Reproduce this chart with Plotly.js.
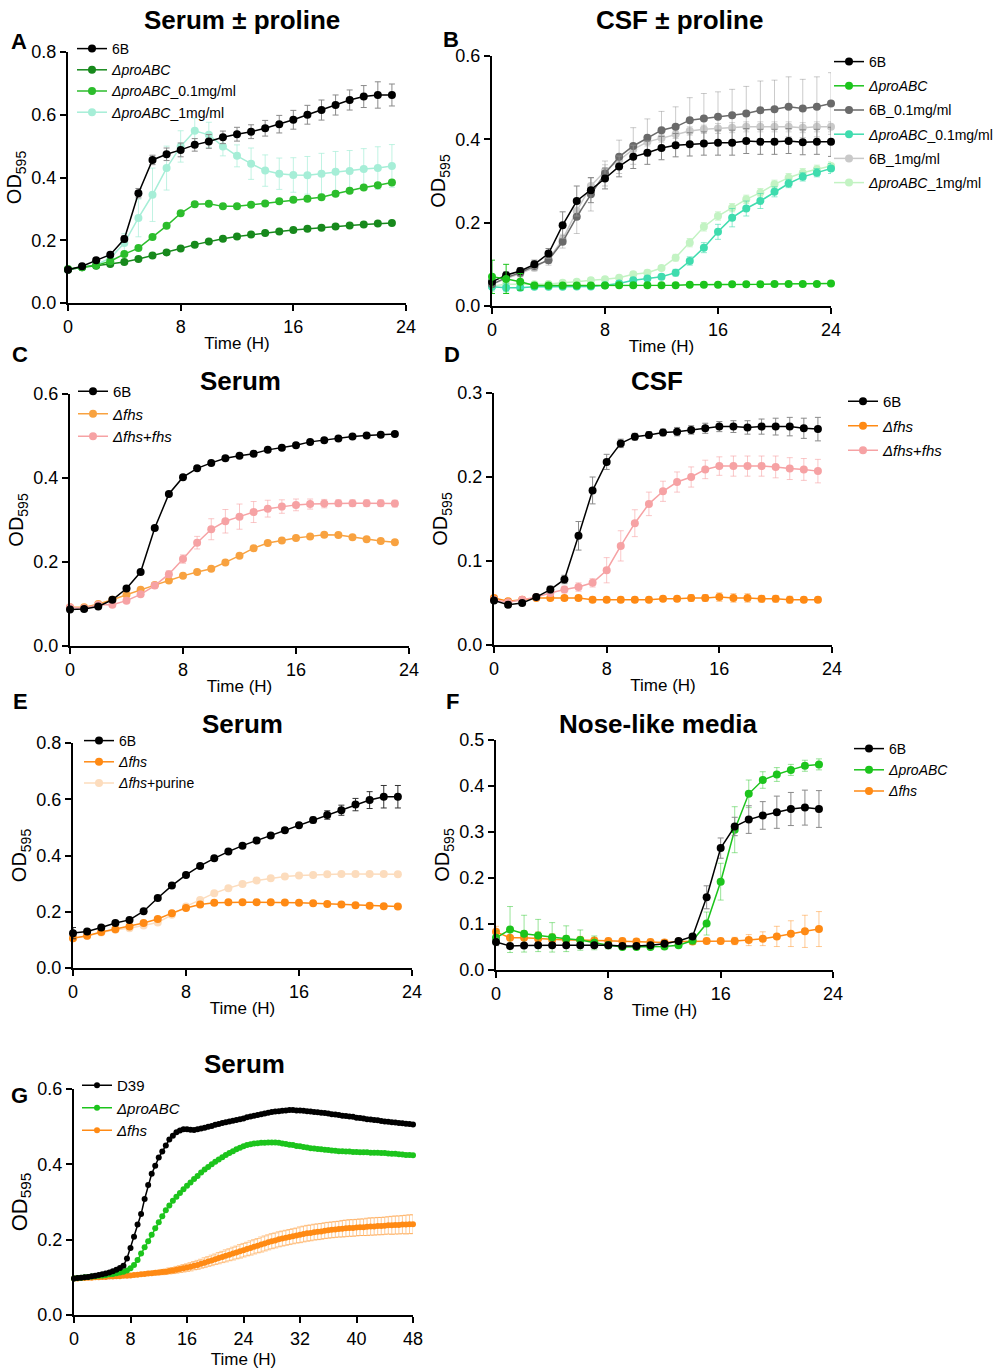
<!DOCTYPE html>
<html><head><meta charset="utf-8">
<script src="https://cdn.plot.ly/plotly-3.0.1.min.js"></script>
<style>html,body{margin:0;padding:0;background:#fff}#chart{width:1004px;height:1372px}</style>
</head><body><div id="chart"></div>
<script>
// ---------- DATA ----------
const hours = [0,1,2,3,4,5,6,7,8,9,10,11,12,13,14,15,16,17,18,19,20,21,22,23];
const hoursB = [0,1,2,3,4,5,6,7,8,9,10,11,12,13,14,15,16,17,18,19,20,21,22,23,24];
const hoursG = [0,0.5,1,1.5,2,2.5,3,3.5,4,4.5,5,5.5,6,6.5,7,7.5,8,8.5,9,9.5,10,10.5,11,11.5,12,12.5,13,13.5,14,14.5,15,15.5,16,16.5,17,17.5,18,18.5,19,19.5,20,20.5,21,21.5,22,22.5,23,23.5,24,24.5,25,25.5,26,26.5,27,27.5,28,28.5,29,29.5,30,30.5,31,31.5,32,32.5,33,33.5,34,34.5,35,35.5,36,36.5,37,37.5,38,38.5,39,39.5,40,40.5,41,41.5,42,42.5,43,43.5,44,44.5,45,45.5,46,46.5,47,47.5,48];

// Panel A: Serum ± proline
const A_6B      = [0.106,0.117,0.136,0.154,0.204,0.350,0.456,0.474,0.488,0.504,0.515,0.528,0.538,0.546,0.557,0.570,0.584,0.600,0.615,0.631,0.647,0.658,0.663,0.663];
const A_6B_err  = [0.004,0.005,0.006,0.006,0.010,0.015,0.015,0.020,0.022,0.020,0.022,0.020,0.022,0.022,0.025,0.028,0.030,0.030,0.032,0.032,0.032,0.035,0.042,0.035];
const A_pro     = [0.106,0.114,0.119,0.124,0.131,0.140,0.151,0.161,0.174,0.186,0.196,0.205,0.212,0.218,0.223,0.228,0.233,0.237,0.240,0.244,0.247,0.250,0.253,0.255];
const A_pro_err = [0.003,0.003,0.003,0.003,0.003,0.003,0.003,0.003,0.003,0.003,0.003,0.003,0.003,0.003,0.003,0.003,0.003,0.003,0.003,0.003,0.003,0.003,0.003,0.003];
const A_p01     = [0.108,0.114,0.120,0.133,0.156,0.175,0.210,0.246,0.286,0.315,0.316,0.308,0.308,0.313,0.317,0.324,0.329,0.332,0.337,0.348,0.358,0.368,0.375,0.384];
const A_p01_err = [0.004,0.004,0.004,0.005,0.005,0.006,0.006,0.006,0.006,0.006,0.006,0.006,0.006,0.006,0.006,0.006,0.006,0.006,0.006,0.006,0.006,0.006,0.006,0.006];
const A_p1      = [0.106,0.114,0.122,0.143,0.191,0.271,0.345,0.430,0.499,0.549,0.536,0.499,0.469,0.444,0.422,0.412,0.408,0.407,0.412,0.418,0.421,0.427,0.430,0.437];
const A_p1_err  = [0.004,0.005,0.008,0.015,0.030,0.060,0.085,0.070,0.050,0.040,0.040,0.030,0.035,0.050,0.050,0.050,0.055,0.060,0.065,0.065,0.065,0.065,0.068,0.068];

// Panel B: CSF ± proline
const B_6B      = [0.058,0.074,0.084,0.100,0.126,0.194,0.252,0.278,0.306,0.335,0.358,0.368,0.379,0.386,0.388,0.390,0.392,0.392,0.396,0.394,0.394,0.396,0.393,0.394,0.394];
const B_6B_err  = [0.005,0.008,0.008,0.010,0.012,0.032,0.036,0.030,0.025,0.025,0.028,0.028,0.028,0.028,0.028,0.028,0.030,0.030,0.030,0.030,0.030,0.030,0.030,0.030,0.035];
const B_pro     = [0.070,0.065,0.058,0.049,0.049,0.049,0.049,0.049,0.049,0.050,0.050,0.050,0.050,0.050,0.051,0.051,0.051,0.052,0.052,0.052,0.053,0.053,0.053,0.053,0.054];
const B_pro_err = [0.040,0.035,0.020,0.004,0.003,0.003,0.003,0.003,0.003,0.003,0.003,0.003,0.003,0.003,0.003,0.003,0.003,0.003,0.003,0.003,0.003,0.003,0.003,0.003,0.003];
const B_6B01    = [0.052,0.068,0.080,0.096,0.110,0.154,0.214,0.268,0.318,0.358,0.384,0.404,0.422,0.430,0.446,0.450,0.454,0.458,0.462,0.470,0.472,0.478,0.474,0.478,0.486];
const B_6B01_err= [0.005,0.008,0.010,0.010,0.012,0.015,0.040,0.040,0.030,0.040,0.044,0.045,0.045,0.048,0.054,0.060,0.060,0.062,0.065,0.070,0.070,0.072,0.070,0.072,0.074];
const B_p01     = [0.046,0.044,0.044,0.046,0.046,0.046,0.047,0.047,0.050,0.054,0.062,0.066,0.070,0.080,0.108,0.140,0.178,0.212,0.234,0.252,0.274,0.294,0.310,0.320,0.330];
const B_p01_err = [0.010,0.010,0.005,0.004,0.004,0.004,0.004,0.004,0.004,0.004,0.005,0.005,0.006,0.008,0.010,0.012,0.018,0.022,0.018,0.018,0.012,0.010,0.010,0.010,0.012];
const B_6B1     = [0.052,0.066,0.078,0.092,0.112,0.160,0.228,0.288,0.324,0.350,0.376,0.394,0.403,0.412,0.420,0.424,0.426,0.428,0.430,0.430,0.430,0.430,0.428,0.430,0.430];
const B_6B1_err = [0.005,0.006,0.006,0.008,0.010,0.012,0.020,0.020,0.015,0.012,0.010,0.010,0.010,0.010,0.010,0.010,0.012,0.012,0.012,0.012,0.012,0.012,0.012,0.012,0.012];
const B_p1      = [0.048,0.052,0.052,0.052,0.053,0.056,0.058,0.062,0.064,0.068,0.076,0.080,0.091,0.116,0.152,0.190,0.216,0.236,0.256,0.272,0.292,0.308,0.320,0.328,0.336];
const B_p1_err  = [0.005,0.005,0.005,0.005,0.005,0.005,0.005,0.005,0.005,0.005,0.006,0.006,0.006,0.008,0.010,0.010,0.010,0.010,0.010,0.010,0.010,0.010,0.010,0.010,0.010];

// Panel C: Serum, fhs
const C_6B      = [0.087,0.088,0.094,0.110,0.137,0.176,0.281,0.362,0.402,0.423,0.436,0.447,0.453,0.458,0.467,0.472,0.478,0.486,0.490,0.494,0.499,0.501,0.503,0.505];
const C_fhs     = [0.092,0.092,0.100,0.110,0.122,0.134,0.145,0.156,0.167,0.176,0.184,0.199,0.215,0.233,0.245,0.251,0.257,0.261,0.265,0.264,0.259,0.254,0.250,0.247];
const C_comp    = [0.092,0.090,0.098,0.098,0.108,0.123,0.144,0.171,0.207,0.246,0.278,0.297,0.308,0.319,0.327,0.332,0.336,0.338,0.339,0.340,0.340,0.340,0.340,0.339];
const C_comp_err= [0.003,0.003,0.003,0.004,0.005,0.005,0.006,0.008,0.010,0.015,0.025,0.028,0.030,0.025,0.020,0.016,0.014,0.012,0.010,0.008,0.008,0.008,0.008,0.008];

// Panel D: CSF, fhs
const D_6B      = [0.053,0.048,0.050,0.057,0.066,0.078,0.130,0.184,0.218,0.240,0.248,0.250,0.253,0.254,0.256,0.258,0.260,0.260,0.259,0.260,0.260,0.260,0.258,0.257];
const D_6B_err  = [0.003,0.003,0.003,0.003,0.004,0.005,0.017,0.016,0.009,0.005,0.004,0.004,0.004,0.005,0.005,0.006,0.006,0.007,0.008,0.009,0.010,0.011,0.012,0.014];
const D_fhs     = [0.056,0.052,0.054,0.056,0.056,0.056,0.056,0.054,0.054,0.054,0.054,0.054,0.055,0.055,0.056,0.056,0.057,0.056,0.056,0.055,0.055,0.054,0.054,0.054];
const D_fhs_err = [0.003,0.003,0.003,0.003,0.003,0.003,0.003,0.003,0.003,0.003,0.003,0.003,0.003,0.003,0.004,0.004,0.005,0.005,0.005,0.004,0.004,0.004,0.003,0.003];
const D_comp    = [0.054,0.051,0.054,0.057,0.062,0.066,0.069,0.074,0.089,0.118,0.145,0.168,0.183,0.194,0.200,0.209,0.213,0.213,0.213,0.213,0.212,0.210,0.209,0.207];
const D_comp_err= [0.003,0.003,0.003,0.003,0.004,0.004,0.005,0.005,0.015,0.018,0.016,0.014,0.012,0.012,0.012,0.011,0.011,0.012,0.012,0.012,0.013,0.013,0.013,0.014];

// Panel E: Serum, fhs + purine
const E_6B      = [0.124,0.130,0.144,0.160,0.171,0.202,0.249,0.293,0.331,0.363,0.390,0.414,0.435,0.453,0.471,0.490,0.508,0.526,0.544,0.561,0.581,0.597,0.609,0.609];
const E_6B_err  = [0.020,0.006,0.005,0.005,0.005,0.006,0.006,0.006,0.006,0.006,0.006,0.006,0.007,0.008,0.008,0.008,0.008,0.010,0.015,0.018,0.022,0.030,0.040,0.040];
const E_fhs     = [0.106,0.115,0.128,0.138,0.148,0.160,0.174,0.195,0.213,0.226,0.232,0.234,0.234,0.234,0.234,0.233,0.232,0.230,0.228,0.226,0.223,0.221,0.220,0.219];
const E_pur     = [0.106,0.114,0.126,0.136,0.141,0.151,0.162,0.189,0.219,0.242,0.266,0.284,0.299,0.311,0.319,0.325,0.329,0.331,0.333,0.334,0.334,0.334,0.334,0.333];

// Panel F: Nose-like media
const F_6B      = [0.061,0.052,0.053,0.054,0.054,0.054,0.054,0.054,0.054,0.052,0.052,0.054,0.057,0.063,0.073,0.158,0.265,0.312,0.327,0.336,0.343,0.350,0.353,0.350];
const F_6B_err  = [0.008,0.004,0.004,0.004,0.004,0.004,0.004,0.004,0.004,0.004,0.004,0.004,0.004,0.005,0.005,0.025,0.022,0.020,0.030,0.030,0.035,0.036,0.038,0.040];
const F_pro     = [0.070,0.088,0.079,0.075,0.071,0.068,0.065,0.059,0.054,0.050,0.050,0.050,0.051,0.054,0.064,0.101,0.192,0.305,0.383,0.413,0.425,0.435,0.444,0.447];
const F_pro_err = [0.015,0.050,0.040,0.035,0.032,0.028,0.022,0.015,0.008,0.005,0.005,0.005,0.005,0.005,0.008,0.025,0.040,0.050,0.030,0.018,0.015,0.012,0.012,0.012];
const F_fhs     = [0.083,0.070,0.070,0.068,0.066,0.065,0.065,0.064,0.063,0.063,0.062,0.061,0.060,0.062,0.062,0.063,0.063,0.063,0.065,0.068,0.073,0.079,0.084,0.089];
const F_fhs_err = [0.012,0.015,0.015,0.015,0.013,0.010,0.008,0.006,0.006,0.006,0.006,0.006,0.006,0.006,0.006,0.006,0.006,0.008,0.012,0.015,0.022,0.028,0.035,0.038];

// Panel G: Serum, 48 h
const G_D39 = [0.097,0.098,0.099,0.100,0.101,0.103,0.104,0.106,0.108,0.110,
0.113,0.116,0.120,0.125,0.131,0.150,0.178,0.208,0.240,0.268,
0.308,0.345,0.375,0.396,0.418,0.434,0.450,0.466,0.476,0.485,
0.490,0.493,0.493,0.492,0.491,0.493,0.495,0.497,0.500,0.502,
0.505,0.507,0.510,0.512,0.514,0.516,0.518,0.520,0.522,0.525,
0.527,0.529,0.531,0.533,0.535,0.537,0.539,0.540,0.541,0.542,
0.543,0.544,0.544,0.543,0.543,0.542,0.541,0.540,0.539,0.538,
0.537,0.536,0.535,0.533,0.532,0.531,0.529,0.528,0.527,0.526,
0.524,0.523,0.522,0.520,0.519,0.518,0.517,0.515,0.514,0.513,
0.512,0.511,0.510,0.509,0.508,0.507,0.506];
const G_pro = [0.097,0.098,0.099,0.100,0.101,0.102,0.103,0.104,0.105,0.106,
0.108,0.109,0.111,0.113,0.115,0.118,0.124,0.133,0.146,0.163,
0.180,0.196,0.213,0.230,0.246,0.262,0.278,0.291,0.303,0.314,
0.324,0.334,0.343,0.352,0.361,0.369,0.378,0.386,0.393,0.400,
0.407,0.413,0.419,0.425,0.430,0.435,0.440,0.444,0.448,0.451,
0.453,0.455,0.456,0.457,0.457,0.458,0.458,0.458,0.457,0.455,
0.454,0.452,0.451,0.449,0.448,0.446,0.445,0.443,0.442,0.441,
0.440,0.439,0.438,0.437,0.436,0.435,0.435,0.434,0.434,0.433,
0.433,0.432,0.432,0.432,0.431,0.431,0.431,0.430,0.430,0.429,
0.428,0.428,0.427,0.426,0.425,0.425,0.424];
const G_fhs = [0.097,0.097,0.098,0.098,0.099,0.099,0.100,0.100,0.101,0.101,
0.102,0.102,0.103,0.103,0.104,0.104,0.105,0.106,0.107,0.108,
0.109,0.110,0.111,0.112,0.113,0.114,0.115,0.117,0.118,0.120,
0.122,0.124,0.126,0.128,0.131,0.133,0.136,0.139,0.142,0.145,
0.148,0.151,0.154,0.157,0.160,0.163,0.166,0.169,0.172,0.175,
0.178,0.181,0.184,0.187,0.190,0.193,0.196,0.198,0.201,0.203,
0.205,0.207,0.209,0.211,0.213,0.215,0.217,0.218,0.220,0.221,
0.222,0.224,0.225,0.226,0.227,0.228,0.229,0.230,0.231,0.231,
0.232,0.233,0.233,0.234,0.235,0.235,0.236,0.236,0.237,0.238,
0.238,0.239,0.239,0.240,0.240,0.241,0.241];
const G_fhs_err = [0.002,0.002,0.002,0.002,0.002,0.002,0.002,0.002,0.002,0.002,
0.002,0.002,0.002,0.002,0.002,0.002,0.002,0.003,0.003,0.004,
0.004,0.005,0.005,0.006,0.006,0.007,0.007,0.008,0.008,0.009,
0.009,0.010,0.010,0.011,0.011,0.012,0.012,0.013,0.013,0.014,
0.014,0.015,0.015,0.016,0.016,0.017,0.017,0.018,0.018,0.018,
0.019,0.019,0.019,0.020,0.020,0.020,0.020,0.020,0.020,0.020,
0.020,0.020,0.020,0.020,0.021,0.021,0.021,0.021,0.021,0.021,
0.021,0.021,0.021,0.021,0.021,0.021,0.022,0.022,0.022,0.022,
0.022,0.022,0.022,0.023,0.023,0.023,0.023,0.023,0.023,0.023,
0.024,0.024,0.024,0.024,0.025,0.025,0.025];

// ---------- LAYOUT HELPERS ----------
const W = 1004, H = 1372;
const px = v => v / W;
const py = v => 1 - v / H;
const FONT = 'Liberation Sans, Arial, Helvetica, sans-serif';

const BLACK = '#000000', BLACK_E = '#8a8a8a';
const GREEN_D = '#17891c', GREEN_M = '#2cbd2c', MINT = '#a6eed7';
const GREEN = '#1cc41c', GREY_D = '#6a6a6a', GREY_L = '#c9c9c9', TURQ = '#3fdcae', PALEG = '#c3f3c3';
const ORANGE_L = '#f8a240', ORANGE = '#ff8a14', PINK = '#f6a2a4', PEACH = '#fcdcbd';

function hexA(hex, a) {
  const n = parseInt(hex.slice(1), 16);
  return `rgba(${(n>>16)&255},${(n>>8)&255},${n&255},${a})`;
}

function tr(x, y, err, name, color, ecolor, ax, leg, size, rank) {
  const t = {
    type: 'scatter', mode: 'lines+markers', x: x, y: y, name: name,
    xaxis: 'x' + ax, yaxis: 'y' + ax, legend: leg, legendgroup: leg + rank, legendrank: rank,
    line: {color: color, width: 1.5},
    marker: {color: color, size: size || 8},
    cliponaxis: false
  };
  if (err) t.error_y = {type: 'data', array: err, visible: true, color: ecolor, thickness: 1, width: 3};
  return t;
}

function xax(d0, d1, range, tickvals, anchor, stand) {
  return {domain: [px(d0), px(d1)], range: range, tickvals: tickvals, anchor: anchor,
    showline: true, linecolor: '#000', linewidth: 2, ticks: 'outside', ticklen: 6, tickwidth: 2,
    tickcolor: '#000', showgrid: false, zeroline: false, fixedrange: true,
    tickfont: {family: FONT, size: 18, color: '#000'},
    title: {text: 'Time (H)', standoff: stand || 2, font: {family: FONT, size: 17, color: '#000'}}};
}
function yax(top, bot, range, tickvals, anchor, tsize) {
  return {domain: [py(bot), py(top)], range: range, tickvals: tickvals, anchor: anchor, tickformat: '.1f',
    showline: true, linecolor: '#000', linewidth: 2, ticks: 'outside', ticklen: 6, tickwidth: 2,
    tickcolor: '#000', showgrid: false, zeroline: false, fixedrange: true,
    tickfont: {family: FONT, size: 18, color: '#000'},
    title: {text: 'OD<sub>595</sub>', standoff: 4, font: {family: FONT, size: tsize || 20, color: '#000'}}};
}
function leg(x, y, size, gap) {
  return {x: px(x), y: py(y), xanchor: 'left', yanchor: 'top', bgcolor: 'rgba(0,0,0,0)',
    borderwidth: 0, font: {family: FONT, size: size, color: '#000'}, tracegroupgap: gap,
    traceorder: 'grouped', itemwidth: 30};
}
function ann(text, x, y, size) {
  return {text: text, x: px(x), y: py(y), xref: 'paper', yref: 'paper', showarrow: false,
    xanchor: 'center', yanchor: 'middle',
    font: {family: FONT, size: size, color: '#000'}};
}

// ---------- TRACES (drawn bottom-to-top; legend order from legendrank) ----------
const it = '<i>ΔproABC</i>';
const traces = [
  // A
  tr(hours, A_p1,  A_p1_err,  it + '_1mg/ml',   MINT,    hexA(MINT,0.7), '', 'legend', 8, 4),
  tr(hours, A_pro, A_pro_err, it,               GREEN_D, hexA(GREEN_D,0.5), '', 'legend', 8, 2),
  tr(hours, A_p01, A_p01_err, it + '_0.1mg/ml', GREEN_M, hexA(GREEN_M,0.5), '', 'legend', 8, 3),
  tr(hours, A_6B,  A_6B_err,  '6B',             BLACK,   BLACK_E, '', 'legend', 8, 1),
  // B
  tr(hoursB, B_p1,   B_p1_err,   it + '_1mg/ml',   PALEG,  hexA(PALEG,0.8), '2', 'legend2', 8, 6),
  tr(hoursB, B_6B1,  B_6B1_err,  '6B_1mg/ml',      GREY_L, hexA(GREY_L,0.8), '2', 'legend2', 8, 5),
  tr(hoursB, B_p01,  B_p01_err,  it + '_0.1mg/ml', TURQ,   hexA(TURQ,0.6), '2', 'legend2', 8, 4),
  tr(hoursB, B_6B01, B_6B01_err, '6B_0.1mg/ml',    GREY_D, hexA(GREY_D,0.35), '2', 'legend2', 8, 3),
  tr(hoursB, B_6B,   B_6B_err,   '6B',             BLACK,  BLACK_E, '2', 'legend2', 8, 1),
  tr(hoursB, B_pro,  B_pro_err,  it,               GREEN,  GREEN, '2', 'legend2', 8, 2),
  // C
  tr(hours, C_fhs,  null,       '<i>Δfhs</i>',           ORANGE_L, ORANGE_L, '3', 'legend3', 8, 2),
  tr(hours, C_comp, C_comp_err, '<i>Δfhs</i>+<i>fhs</i>', PINK,     hexA(PINK,0.6), '3', 'legend3', 8, 3),
  tr(hours, C_6B,   null,       '6B',                    BLACK,    BLACK_E, '3', 'legend3', 8, 1),
  // D
  tr(hours, D_fhs,  D_fhs_err,  '<i>Δfhs</i>',           ORANGE, hexA(ORANGE,0.5), '4', 'legend4', 8, 2),
  tr(hours, D_comp, D_comp_err, '<i>Δfhs</i>+<i>fhs</i>', PINK,   hexA(PINK,0.6), '4', 'legend4', 8, 3),
  tr(hours, D_6B,   D_6B_err,   '6B',                    BLACK,  BLACK_E, '4', 'legend4', 8, 1),
  // E
  tr(hours, E_pur, null,     '<i>Δfhs</i>+purine', PEACH,  PEACH, '5', 'legend5', 8, 3),
  tr(hours, E_fhs, null,     '<i>Δfhs</i>',        ORANGE, ORANGE, '5', 'legend5', 8, 2),
  tr(hours, E_6B,  E_6B_err, '6B',                 BLACK,  '#333', '5', 'legend5', 8, 1),
  // F
  tr(hours, F_fhs, F_fhs_err, '<i>Δfhs</i>',  ORANGE, hexA(ORANGE,0.45), '6', 'legend6', 8, 3),
  tr(hours, F_pro, F_pro_err, it,             GREEN,  hexA(GREEN,0.45), '6', 'legend6', 8, 2),
  tr(hours, F_6B,  F_6B_err,  '6B',           BLACK,  BLACK_E, '6', 'legend6', 8, 1),
  // G
  tr(hoursG, G_fhs, G_fhs_err, '<i>Δfhs</i>', ORANGE, hexA(ORANGE,0.45), '7', 'legend7', 6, 3),
  tr(hoursG, G_pro, null,      it,            GREEN,  GREEN, '7', 'legend7', 6, 2),
  tr(hoursG, G_D39, null,      'D39',         BLACK,  BLACK, '7', 'legend7', 6, 1)
];
traces.forEach(t => { if (t.xaxis === 'x') { t.xaxis = 'x'; t.yaxis = 'y'; } });

const t24 = [0, 8, 16, 24];
const layout = {
  width: W, height: H, margin: {l: 0, r: 0, t: 0, b: 0, pad: 0, autoexpand: false},
  paper_bgcolor: '#fff', plot_bgcolor: 'rgba(0,0,0,0)', showlegend: true,
  font: {family: FONT, color: '#000'},
  xaxis:  xax(68, 406, [0, 24], t24, 'y'),   yaxis:  yax(52, 303, [0, 0.8], [0,0.2,0.4,0.6,0.8], 'x'),
  xaxis2: xax(492, 831, [0, 24], t24, 'y2'), yaxis2: yax(56, 306, [0, 0.6], [0,0.2,0.4,0.6], 'x2'),
  xaxis3: xax(70, 409, [0, 24], t24, 'y3'),  yaxis3: yax(394, 646, [0, 0.6], [0,0.2,0.4,0.6], 'x3'),
  xaxis4: xax(494, 832, [0, 24], t24, 'y4'), yaxis4: yax(393, 645, [0, 0.3], [0,0.1,0.2,0.3], 'x4'),
  xaxis5: xax(73, 412, [0, 24], t24, 'y5'),  yaxis5: yax(743, 968, [0, 0.8], [0,0.2,0.4,0.6,0.8], 'x5'),
  xaxis6: xax(496, 833, [0, 24], t24, 'y6'), yaxis6: yax(740, 970, [0, 0.5], [0,0.1,0.2,0.3,0.4,0.5], 'x6'),
  xaxis7: xax(74, 413, [0, 48], [0,8,16,24,32,40,48], 'y7', 6), yaxis7: yax(1089, 1315, [0, 0.6], [0,0.2,0.4,0.6], 'x7', 22),
  legend:  leg(72, 33, 14, 0),
  legend2: leg(829, 46, 14, 3),
  legend3: leg(73, 375, 15, 0),
  legend4: leg(843, 385, 15, 2),
  legend5: leg(79, 725, 14, 0),
  legend6: leg(849, 733, 14, 0),
  legend7: leg(77, 1069, 15, 0),
  annotations: [
    ann('<b>Serum ± proline</b>', 242, 20, 26),
    ann('<b>CSF ± proline</b>', 679, 20, 26),
    ann('<b>Serum</b>', 240, 381, 26),
    ann('<b>CSF</b>', 657, 381, 26),
    ann('<b>Serum</b>', 242, 724, 26),
    ann('<b>Nose-like media</b>', 658, 724, 26),
    ann('<b>Serum</b>', 244, 1064, 26),
    ann('<b>A</b>', 19, 41, 22), ann('<b>B</b>', 451, 40, 22),
    ann('<b>C</b>', 20, 354, 22), ann('<b>D</b>', 452, 354, 22),
    ann('<b>E</b>', 20, 701, 22), ann('<b>F</b>', 452, 701, 22),
    ann('<b>G</b>', 19, 1095, 22)
  ]
};

Plotly.newPlot('chart', traces, layout, {staticPlot: true, displayModeBar: false});
</script></body></html>
